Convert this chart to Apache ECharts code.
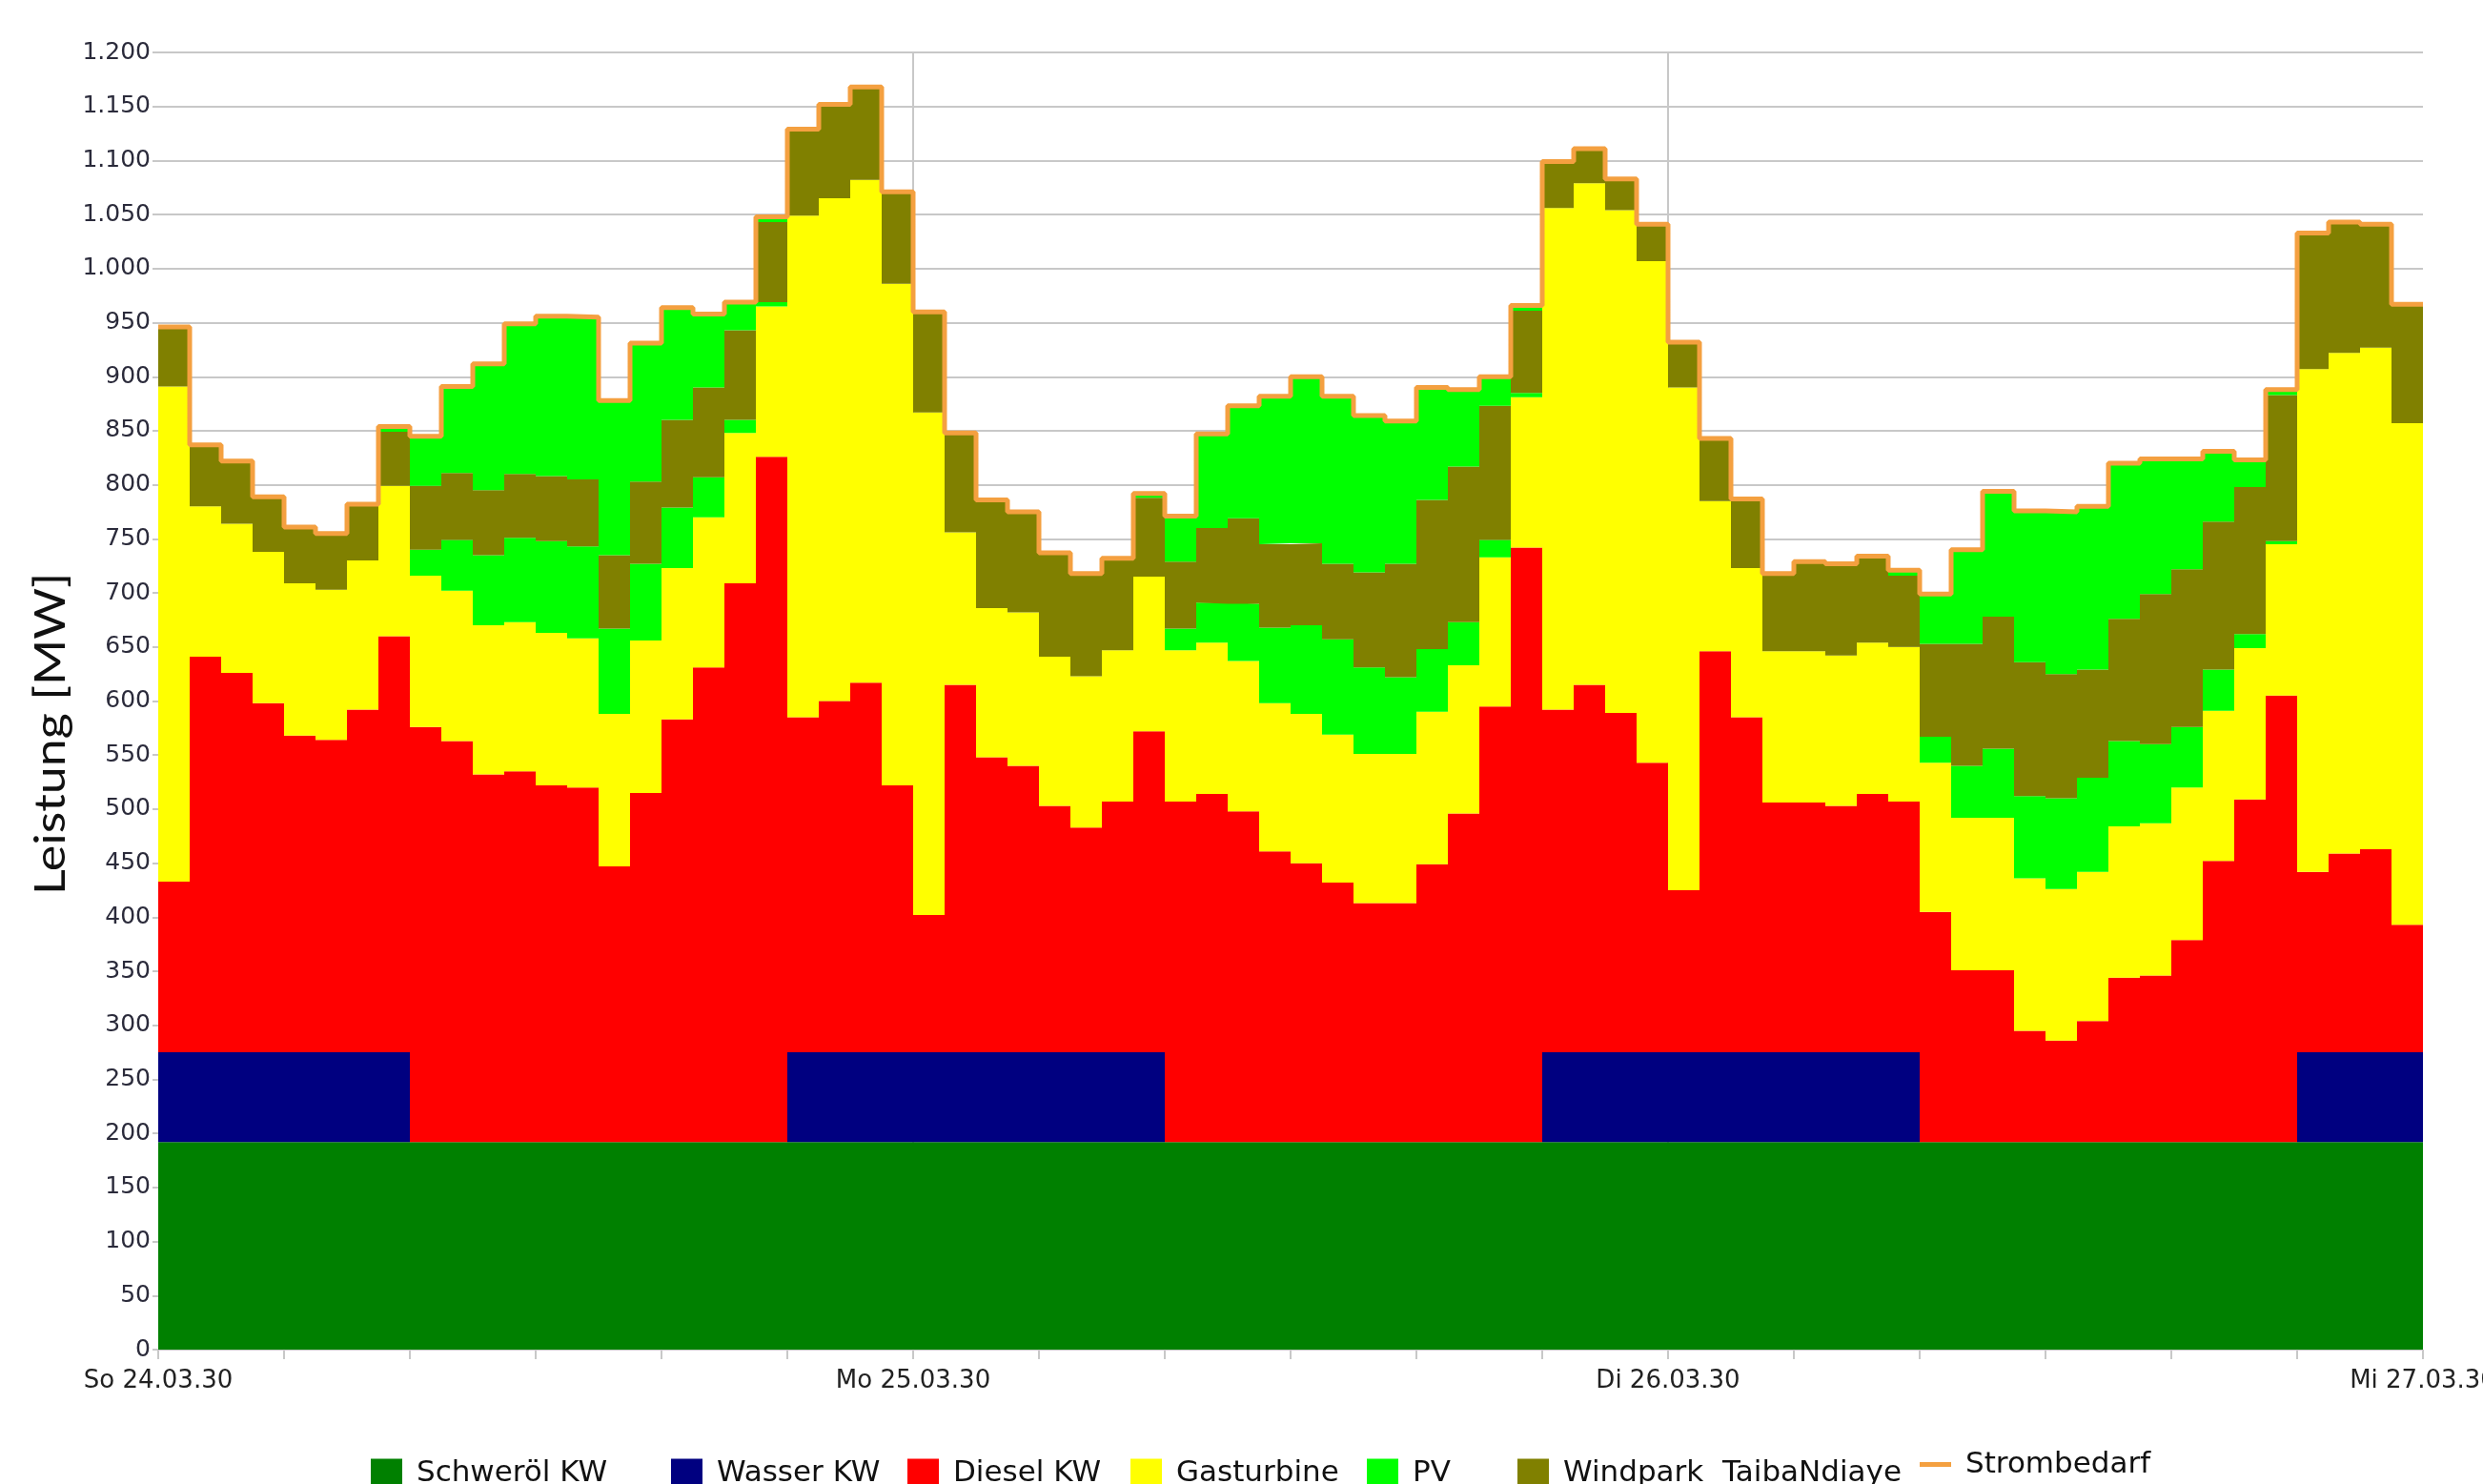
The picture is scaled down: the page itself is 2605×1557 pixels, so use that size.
<!DOCTYPE html>
<html>
<head>
<meta charset="utf-8">
<title>Leistung</title>
<script src="https://cdn.jsdelivr.net/npm/echarts@6/dist/echarts.min.js"></script>
<style>
  html, body { margin: 0; padding: 0; background: #fff; }
  #chart { width: 2605px; height: 1557px; }
</style>
</head>
<body>
<div id="chart"></div>
<script>
// Stundenwerte in MW, 72 Stunden ab So 24.03.30 00:00
const dayLabels = ['So 24.03.30', 'Mo 25.03.30', 'Di 26.03.30', 'Mi 27.03.30'];

const schweroel = [
  192, 192, 192, 192, 192, 192, 192, 192, 192, 192, 192, 192,
  192, 192, 192, 192, 192, 192, 192, 192, 192, 192, 192, 192,
  192, 192, 192, 192, 192, 192, 192, 192, 192, 192, 192, 192,
  192, 192, 192, 192, 192, 192, 192, 192, 192, 192, 192, 192,
  192, 192, 192, 192, 192, 192, 192, 192, 192, 192, 192, 192,
  192, 192, 192, 192, 192, 192, 192, 192, 192, 192, 192, 192
];
const wasser = [
  83, 83, 83, 83, 83, 83, 83, 83, 0, 0, 0, 0,
  0, 0, 0, 0, 0, 0, 0, 0, 83, 83, 83, 83,
  83, 83, 83, 83, 83, 83, 83, 83, 0, 0, 0, 0,
  0, 0, 0, 0, 0, 0, 0, 0, 83, 83, 83, 83,
  83, 83, 83, 83, 83, 83, 83, 83, 0, 0, 0, 0,
  0, 0, 0, 0, 0, 0, 0, 0, 83, 83, 83, 83
];
const diesel = [
  158, 366, 351, 323, 293, 289, 317, 385, 384, 371, 340, 343,
  330, 328, 255, 323, 391, 439, 517, 634, 310, 325, 342, 247,
  127, 340, 273, 265, 228, 208, 232, 297, 315, 322, 306, 269,
  258, 240, 221, 221, 257, 304, 403, 550, 317, 340, 314, 268,
  150, 371, 310, 231, 231, 228, 239, 232, 213, 159, 159, 103,
  94, 112, 152, 154, 187, 260, 317, 413, 167, 184, 188, 118
];
const gasturbine = [
  458, 139, 138, 140, 141, 139, 138, 139, 140, 139, 138, 138,
  141, 138, 141, 141, 140, 139, 139, 139, 464, 465, 465, 464,
  465, 141, 138, 142, 138, 140, 140, 143, 140, 140, 139, 137,
  138, 137, 138, 138, 141, 137, 138, 139, 464, 464, 465, 464,
  465, 139, 138, 140, 140, 139, 140, 143, 138, 141, 141, 141,
  140, 138, 140, 141, 141, 139, 140, 140, 465, 463, 464, 464
];
// PV liegt im Bild teils unter, teils über dem Windpark-Band
const pvUnten = [
  0, 0, 0, 0, 0, 0, 0, 0, 24, 47, 65, 78,
  85, 85, 79, 71, 56, 37, 12, 4, 0, 0, 0, 0,
  0, 0, 0, 0, 0, 0, 0, 0, 20, 37, 53, 70,
  82, 88, 80, 71, 58, 40, 16, 4, 0, 0, 0, 0,
  0, 0, 0, 0, 0, 0, 0, 0, 24, 48, 64, 76,
  84, 87, 79, 73, 56, 38, 13, 3, 0, 0, 0, 0
];
const windpark = [
  55, 57, 58, 51, 52, 52, 52, 50, 59, 62, 60, 59,
  60, 62, 68, 76, 81, 83, 83, 74, 80, 87, 86, 85,
  93, 92, 100, 93, 96, 95, 85, 73, 62, 69, 79, 77,
  76, 70, 88, 105, 138, 144, 124, 76, 43, 32, 29, 34,
  42, 58, 64, 72, 83, 85, 80, 66, 86, 113, 122, 124,
  115, 100, 113, 139, 146, 137, 136, 135, 126, 121, 114, 110
];
const pvOben = [
  0, 0, 0, 0, 0, 0, 0, 5, 46, 80, 117, 139,
  148, 150, 143, 128, 104, 68, 26, 5, 0, 0, 0, 0,
  0, 0, 0, 0, 0, 0, 0, 4, 42, 87, 104, 137,
  154, 155, 145, 132, 104, 71, 27, 5, 0, 0, 0, 0,
  0, 0, 0, 0, 0, 0, 0, 5, 46, 87, 116, 140,
  150, 151, 144, 125, 102, 65, 25, 5, 0, 0, 0, 0
];
const strombedarf = [
  946, 837, 822, 789, 761, 755, 782, 854, 845, 891, 912, 949,
  956, 955, 878, 931, 964, 958, 969, 1048, 1129, 1152, 1168, 1071,
  960, 848, 786, 775, 737, 718, 732, 792, 771, 847, 873, 882,
  900, 882, 864, 859, 890, 888, 900, 966, 1099, 1111, 1083, 1041,
  932, 843, 787, 718, 729, 727, 734, 721, 699, 740, 794, 776,
  775, 780, 820, 824, 824, 831, 823, 888, 1033, 1043, 1041, 967
];

// hour marks 0..72 on the axis; each hour's value holds until the next mark
const hourMarks = Array.from({ length: strombedarf.length + 1 }, (_, i) => String(i));
const steps = vals => vals.concat([vals[vals.length - 1]]);

const layers = [
  ['Schweröl KW', schweroel, '#008000'],
  ['Wasser KW', wasser, '#000080'],
  ['Diesel KW', diesel, '#ff0000'],
  ['Gasturbine', gasturbine, '#ffff00'],
  ['PV', pvUnten, '#00ff00'],
  ['Windpark  TaibaNdiaye', windpark, '#808000'],
  ['PV', pvOben, '#00ff00']
];

const series = layers.map(([name, vals, color]) => ({
  name,
  type: 'line',
  stack: 'mix',
  step: 'end',
  symbol: 'none',
  silent: true,
  data: steps(vals),
  itemStyle: { color },
  lineStyle: { width: 0, color },
  areaStyle: { color, opacity: 1 },
  emphasis: { disabled: true }
}));

series.push({
  name: 'Strombedarf',
  type: 'line',
  step: 'end',
  symbol: 'none',
  silent: true,
  z: 5,
  data: steps(strombedarf),
  itemStyle: { color: '#f4a040' },
  lineStyle: { width: 5, color: '#f4a040' },
  emphasis: { disabled: true }
});

// legend entries sit at fixed spots along the bottom edge
const legendPos = [
  ['Schweröl KW', 389], ['Wasser KW', 704], ['Diesel KW', 952], ['Gasturbine', 1186],
  ['PV', 1434], ['Windpark  TaibaNdiaye', 1592], ['Strombedarf', 2014]
];

const fmtMW = v => v >= 1000 ? Math.floor(v / 1000) + '.' + String(v % 1000).padStart(3, '0') : String(v);

const chart = echarts.init(document.getElementById('chart'));
chart.setOption({
  animation: false,
  backgroundColor: '#ffffff',
  grid: { left: 166, right: 63, top: 55, bottom: 141, containLabel: false, outerBoundsMode: 'none' },
  legend: legendPos.map(([name, left]) => ({
    data: [name],
    left,
    top: name === 'Strombedarf' ? 1521 : 1530,
    padding: 0,
    icon: 'rect',
    itemWidth: 33,
    itemHeight: name === 'Strombedarf' ? 5 : 30,
    selectedMode: false,
    textStyle: { fontFamily: 'DejaVu Sans', fontSize: 31, color: '#111', padding: [0, 0, 0, 10] }
  })),
  xAxis: {
    type: 'category',
    data: hourMarks,
    boundaryGap: false,
    axisLine: { show: true, lineStyle: { color: '#c8c8c8', width: 1 } },
    axisTick: { show: true, interval: 3, length: 10, lineStyle: { color: '#c8c8c8', width: 2 } },
    axisLabel: {
      interval: i => i % 24 === 0,
      margin: 20,
      fontFamily: 'DejaVu Sans',
      fontSize: 26,
      color: '#222',
      formatter: (v, i) => dayLabels[i / 24] || ''
    },
    // only the day boundaries get vertical grid lines
    splitLine: {
      show: true,
      interval: i => i === 24 || i === 48,
      lineStyle: { color: '#c8c8c8', width: 2 }
    }
  },
  yAxis: {
    type: 'value',
    min: 0,
    max: 1200,
    interval: 50,
    axisLine: { show: false },
    axisTick: { show: true, length: 6, lineStyle: { color: '#c8c8c8', width: 2 } },
    axisLabel: { margin: 8, fontFamily: 'DejaVu Sans', fontSize: 25, color: '#2b2b3b', formatter: fmtMW },
    splitLine: { show: true, lineStyle: { color: '#c8c8c8', width: 2 } }
  },
  graphic: [{
    type: 'text',
    x: 54,
    y: 770,
    rotation: Math.PI / 2,
    scaleY: 0.85,
    style: {
      text: 'Leistung [MW]',
      font: '52px Lato',
      fill: '#111',
      textAlign: 'center',
      textVerticalAlign: 'middle'
    }
  }],
  series
});
</script>
</body>
</html>
